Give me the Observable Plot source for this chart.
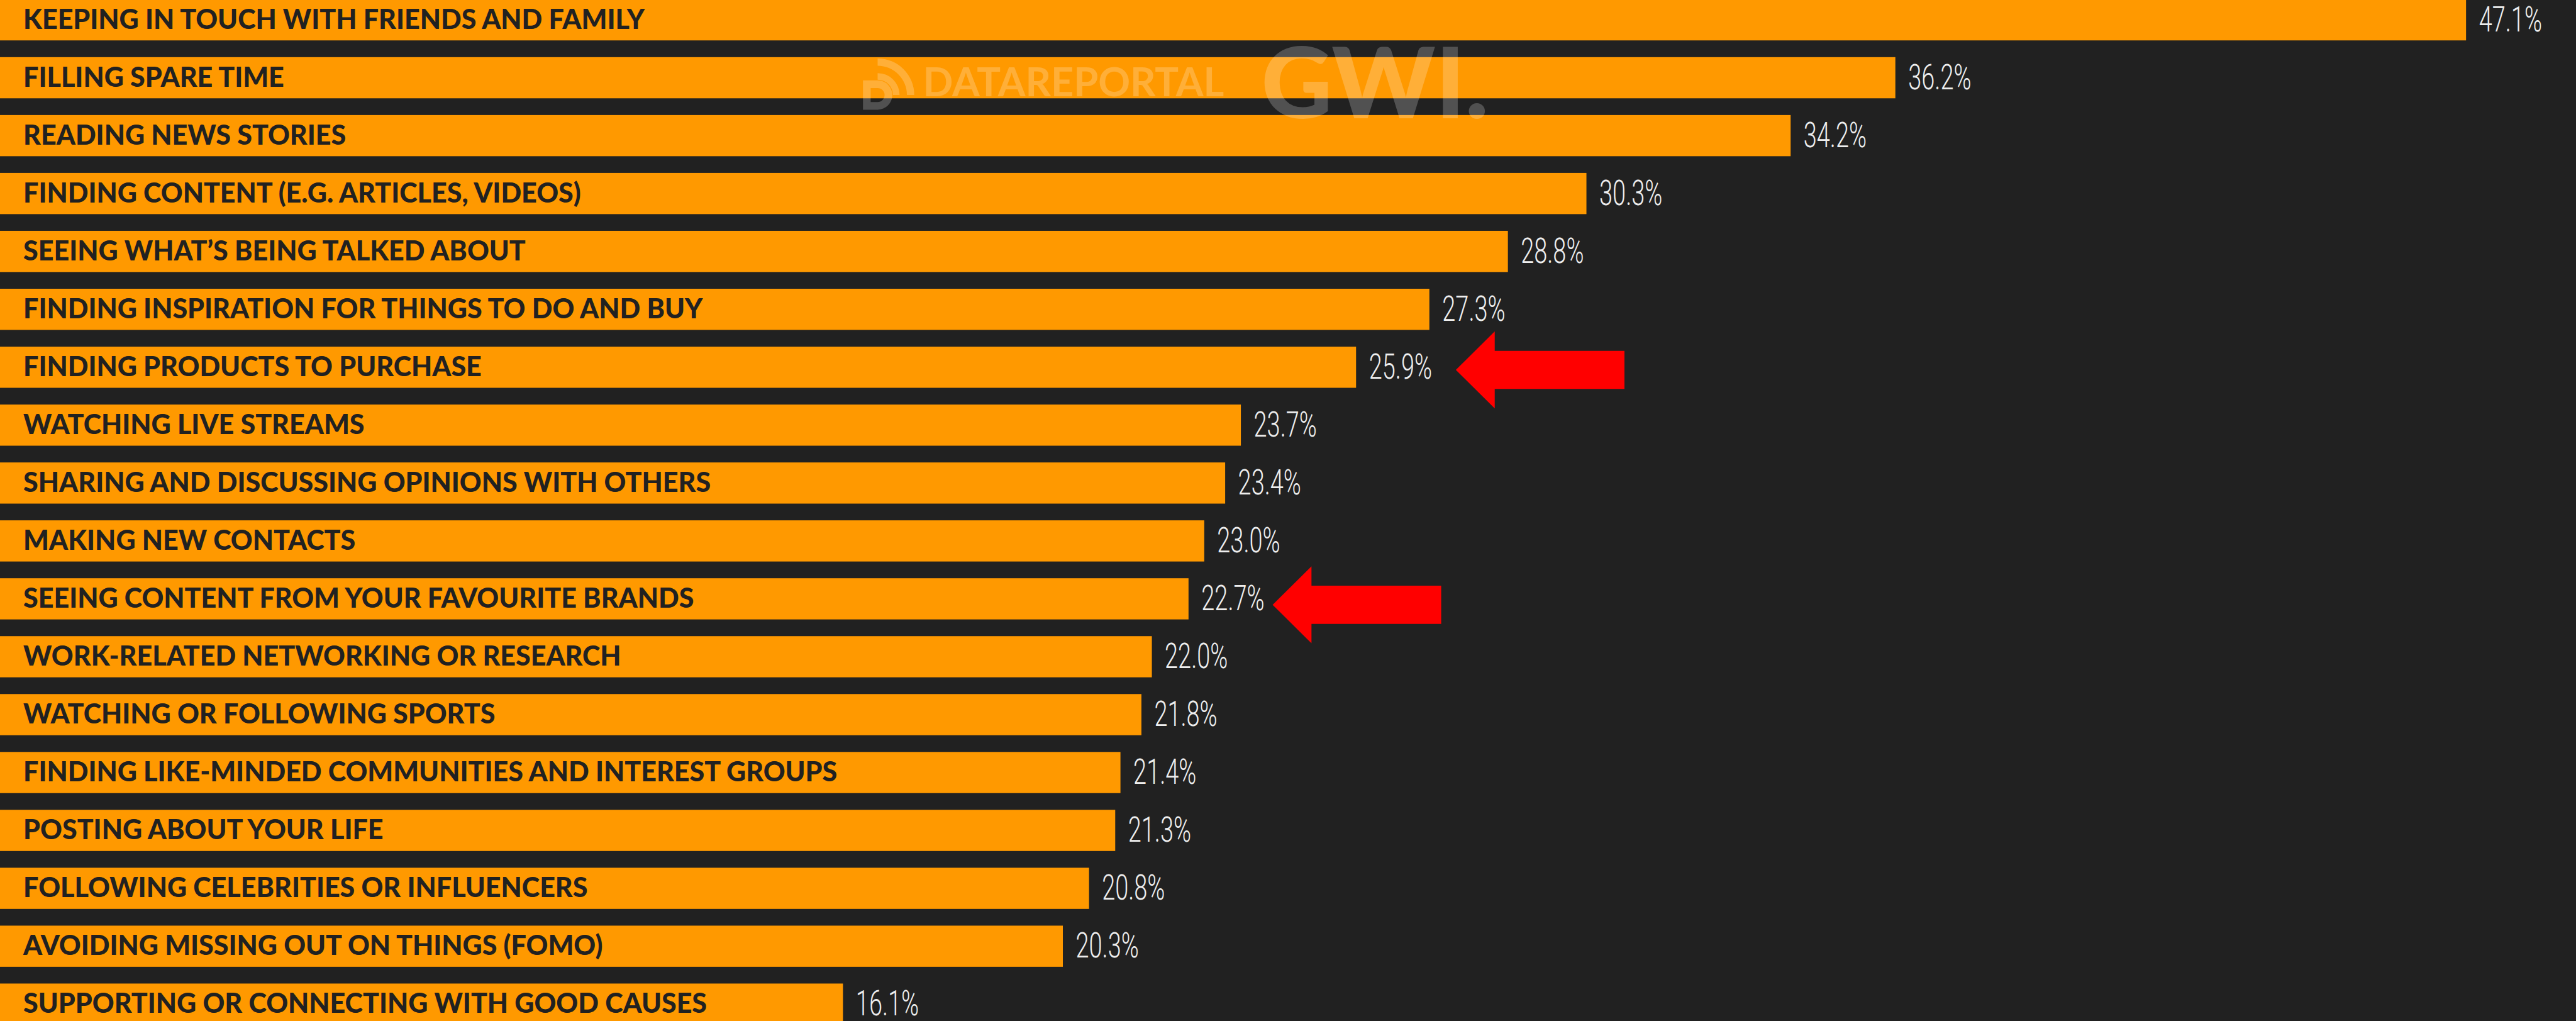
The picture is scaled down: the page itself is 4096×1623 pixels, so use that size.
<!DOCTYPE html>
<html>
<head>
<meta charset="utf-8">
<script src="https://cdn.jsdelivr.net/npm/d3@7"></script>
<script src="https://cdn.jsdelivr.net/npm/@observablehq/plot@0.6"></script>
<style>
  html, body { margin: 0; padding: 0; background: #212121; overflow: hidden; }
  #chart svg { display: block; }
</style>
</head>
<body>
<div id="chart"></div>
<script>
const categories = [
  "KEEPING IN TOUCH WITH FRIENDS AND FAMILY",
  "FILLING SPARE TIME",
  "READING NEWS STORIES",
  "FINDING CONTENT (E.G. ARTICLES, VIDEOS)",
  "SEEING WHAT\u2019S BEING TALKED ABOUT",
  "FINDING INSPIRATION FOR THINGS TO DO AND BUY",
  "FINDING PRODUCTS TO PURCHASE",
  "WATCHING LIVE STREAMS",
  "SHARING AND DISCUSSING OPINIONS WITH OTHERS",
  "MAKING NEW CONTACTS",
  "SEEING CONTENT FROM YOUR FAVOURITE BRANDS",
  "WORK-RELATED NETWORKING OR RESEARCH",
  "WATCHING OR FOLLOWING SPORTS",
  "FINDING LIKE-MINDED COMMUNITIES AND INTEREST GROUPS",
  "POSTING ABOUT YOUR LIFE",
  "FOLLOWING CELEBRITIES OR INFLUENCERS",
  "AVOIDING MISSING OUT ON THINGS (FOMO)",
  "SUPPORTING OR CONNECTING WITH GOOD CAUSES"
];
const values = [47.1, 36.2, 34.2, 30.3, 28.8, 27.3, 25.9, 23.7, 23.4, 23.0, 22.7, 22.0, 21.8, 21.4, 21.3, 20.8, 20.3, 16.1];

// highlight arrows: which rows, and where (in % units) the arrow tip sits
const arrowRows = ["FINDING PRODUCTS TO PURCHASE", "SEEING CONTENT FROM YOUR FAVOURITE BRANDS"];
const arrowTips = [27.8, 24.3];

const watermarkLeft = ["DATAREPORTAL"];
const watermarkRight = ["GWI."];

const data = categories.map((c, i) => ({category: c, value: values[i]}));
const arrows = arrowRows.map((c, i) => ({category: c, tip: arrowTips[i]}));

// block arrow pointing left, tip at origin
const arrowSymbol = {
  draw(ctx, size) {
    const r = Math.sqrt(size / Math.PI);
    const hl = 1.01 * r, sh = 0.495 * r, L = 4.38 * r;
    ctx.moveTo(0, 0);
    ctx.lineTo(hl, -r);
    ctx.lineTo(hl, -sh);
    ctx.lineTo(L, -sh);
    ctx.lineTo(L, sh);
    ctx.lineTo(hl, sh);
    ctx.lineTo(hl, r);
    ctx.closePath();
  }
};

// DataReportal-style icon: a "D" with two signal arcs
const iconSymbol = {
  draw(ctx, size) {
    const R = Math.sqrt(size / Math.PI);
    const ring = (r0, r1) => {
      ctx.moveTo(0, -r1);
      ctx.arc(0, 0, r1, -Math.PI / 2, 0, false);
      ctx.lineTo(r0, 0);
      ctx.arc(0, 0, r0, 0, -Math.PI / 2, true);
      ctx.closePath();
    };
    ring(0.8 * R, 1.0 * R);
    ring(0.42 * R, 0.6 * R);
    const d = 0.4 * R, h = 0.19 * R;
    ctx.moveTo(-d, -d);
    ctx.lineTo(0, -d);
    ctx.arc(0, 0, d, -Math.PI / 2, Math.PI / 2, false);
    ctx.lineTo(-d, d);
    ctx.closePath();
    ctx.moveTo(-h, -h);
    ctx.lineTo(-h, h);
    ctx.lineTo(0, h);
    ctx.arc(0, 0, h, Math.PI / 2, -Math.PI / 2, true);
    ctx.closePath();
  }
};

const chart = Plot.plot({
  width: 4096,
  height: 1623,
  margin: 0,
  style: {background: "#212121", overflow: "hidden"},
  x: {domain: [0, 49.2], range: [0, 4096], axis: null},
  y: {domain: categories, range: [-14.5, 1642.2], paddingInner: 0.289, paddingOuter: 0.1445, round: false, axis: null},
  marks: [
    Plot.barX(data, {x: "value", y: "category", fill: "#ff9900"}),
    Plot.text(data, {
      y: "category", frameAnchor: "left", dx: 36.6, text: "category",
      textAnchor: "start", fill: "#212121",
      fontFamily: "Lato, 'Open Sans', sans-serif", fontWeight: 900, fontSize: 43
    }),
    Plot.text(data, {
      x: "value", y: "category", dx: 20, text: d => d.value.toFixed(1) + "%",
      textAnchor: "start", fill: "#eeeeee",
      fontFamily: "Roboto, sans-serif", fontWeight: 300, fontSize: 55
    }),
    Plot.dot([0], {
      frameAnchor: "top-left", dx: 1395, dy: 150.6, symbol: iconSymbol, r: 58.2,
      fill: "#ffffff", fillOpacity: 0.22, stroke: "none"
    }),
    Plot.text(watermarkLeft, {
      frameAnchor: "top-left", dx: 1467, dy: 152, text: d => d, lineAnchor: "bottom",
      textAnchor: "start", fill: "#ffffff", fillOpacity: 0.22,
      fontFamily: "Lato, sans-serif", fontWeight: 700, fontSize: 63
    }),
    Plot.text(watermarkRight, {
      frameAnchor: "top-left", dx: 2005, dy: 187, text: d => d, lineAnchor: "bottom",
      textAnchor: "start", fill: "#ffffff", fillOpacity: 0.22,
      fontFamily: "Lato, sans-serif", fontWeight: 900, fontSize: 156
    }),
    Plot.dot(arrows.filter((d, i) => i === 0), {
      x: "tip", y: "category", dy: 3.7, symbol: arrowSymbol, r: 61.2,
      fill: "#ff0000", stroke: "none"
    }),
    Plot.dot(arrows.filter((d, i) => i === 1), {
      x: "tip", y: "category", dy: 9, symbol: arrowSymbol, r: 61.2,
      fill: "#ff0000", stroke: "none"
    })
  ]
});

// condensed look for the percentage labels (the text group filled #eeeeee)
chart.querySelectorAll('g[fill="#eeeeee"] text').forEach(t => {
  const tr = t.getAttribute("transform") || "";
  t.setAttribute("transform", tr + " scale(0.69,1)");
});

document.getElementById("chart").appendChild(chart);
</script>
</body>
</html>
